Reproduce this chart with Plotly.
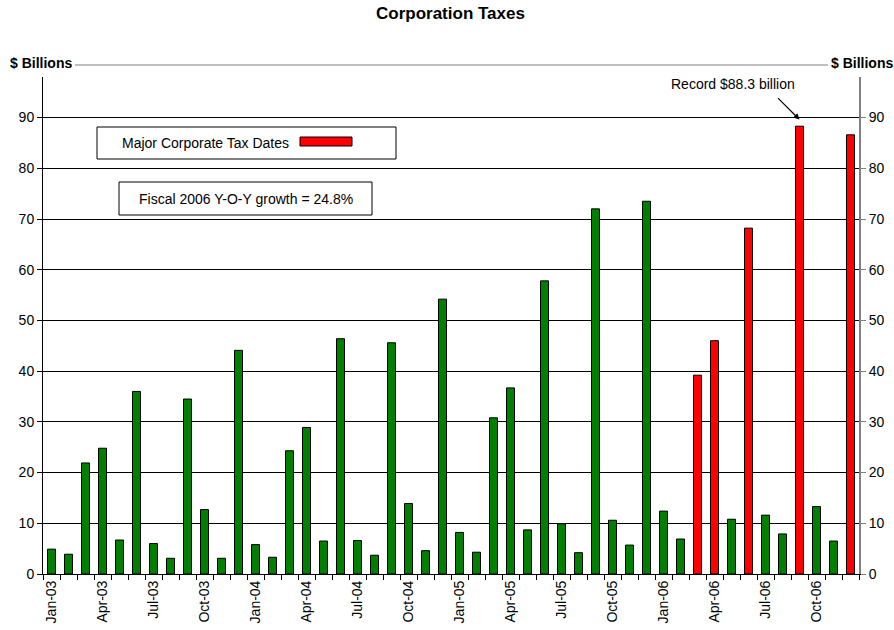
import plotly.graph_objects as go

# Monthly corporation tax receipts, $ billions
months = [
    "Jan-03", "Feb-03", "Mar-03", "Apr-03", "May-03", "Jun-03",
    "Jul-03", "Aug-03", "Sep-03", "Oct-03", "Nov-03", "Dec-03",
    "Jan-04", "Feb-04", "Mar-04", "Apr-04", "May-04", "Jun-04",
    "Jul-04", "Aug-04", "Sep-04", "Oct-04", "Nov-04", "Dec-04",
    "Jan-05", "Feb-05", "Mar-05", "Apr-05", "May-05", "Jun-05",
    "Jul-05", "Aug-05", "Sep-05", "Oct-05", "Nov-05", "Dec-05",
    "Jan-06", "Feb-06", "Mar-06", "Apr-06", "May-06", "Jun-06",
    "Jul-06", "Aug-06", "Sep-06", "Oct-06", "Nov-06", "Dec-06",
]
receipts = [
    4.9, 3.9, 21.9, 24.8, 6.7, 36.0, 6.0, 3.1, 34.5, 12.7, 3.1, 44.1,
    5.8, 3.3, 24.3, 28.9, 6.5, 46.4, 6.6, 3.7, 45.6, 13.9, 4.6, 54.2,
    8.2, 4.3, 30.8, 36.7, 8.7, 57.8, 9.9, 4.2, 72.0, 10.6, 5.7, 73.5,
    12.4, 6.9, 39.2, 46.0, 10.8, 68.2, 11.6, 7.9, 88.3, 13.3, 6.5, 86.6,
]
# Major corporate tax dates highlighted for fiscal 2006
highlighted = {"Mar-06", "Apr-06", "Jun-06", "Sep-06", "Dec-06"}
labelled_months = ["Jan", "Apr", "Jul", "Oct"]
y_ticks = [0, 10, 20, 30, 40, 50, 60, 70, 80, 90]

GREEN = "#008000"
RED = "#FF0000"
FONT = "Liberation Sans, Arial, sans-serif"

bar_colors = [RED if m in highlighted else GREEN for m in months]
tick_text = [m if m[:3] in labelled_months else "" for m in months]

fig = go.Figure()
fig.add_trace(go.Bar(
    x=months, y=receipts,
    marker=dict(color=bar_colors, line=dict(color="black", width=1)),
    width=0.47, showlegend=False, hoverinfo="x+y",
))
# carrier for the right-hand value axis
fig.add_trace(go.Scatter(
    x=[months[0]], y=[0], yaxis="y2", mode="markers",
    marker=dict(opacity=0), showlegend=False, hoverinfo="skip",
))

L, R, T, B = 43, 35, 77, 56
W, H = 894, 630
pw, ph = W - L - R, H - T - B


def px(x):
    return (x - L) / pw


def py(y):
    return (H - B - y) / ph


fig.update_layout(
    width=W, height=H, autosize=False,
    margin=dict(l=L, r=R, t=T, b=B, pad=0, autoexpand=False),
    paper_bgcolor="white", plot_bgcolor="white",
    font=dict(family=FONT, size=14, color="black"),
    bargap=0.5,
    xaxis=dict(
        type="category", tickmode="array", tickvals=months, ticktext=tick_text,
        tickangle=-90, ticks="outside", tickson="boundaries", ticklen=5,
        tickcolor="black", showline=True, linecolor="black", linewidth=1,
        showgrid=False, tickfont=dict(size=14), range=[-0.5, 47.5],
        automargin=False,
    ),
    yaxis=dict(
        range=[0, 98], tickvals=y_ticks, ticks="outside", ticklen=5,
        tickcolor="black", showline=True, linecolor="black", linewidth=1,
        showgrid=True, gridcolor="black", gridwidth=1, zeroline=False,
        tickfont=dict(size=14), automargin=False,
    ),
    yaxis2=dict(
        overlaying="y", side="right", range=[0, 98], tickvals=y_ticks,
        ticks="outside", ticklen=5, tickcolor="#808080", showline=True,
        linecolor="#808080", linewidth=2, showgrid=False, zeroline=False,
        tickfont=dict(size=14), automargin=False,
    ),
)

shapes = [
    # rule across the top between the unit labels
    dict(type="line", xref="paper", yref="paper", x0=px(75), x1=px(828),
         y0=py(65), y1=py(65), line=dict(color="#808080", width=1)),
    # key box
    dict(type="rect", xref="paper", yref="paper", x0=px(97), x1=px(396),
         y0=py(159), y1=py(127), line=dict(color="black", width=1),
         fillcolor="white"),
    dict(type="rect", xref="paper", yref="paper", x0=px(300), x1=px(352),
         y0=py(146), y1=py(137), line=dict(color="black", width=1),
         fillcolor=RED),
    # growth note box
    dict(type="rect", xref="paper", yref="paper", x0=px(119), x1=px(372),
         y0=py(215), y1=py(182), line=dict(color="black", width=1),
         fillcolor="white"),
]
fig.update_layout(shapes=shapes)

annotations = [
    dict(text="<b>Corporation Taxes</b>", xref="paper", yref="paper",
         x=px(450), y=py(14), xanchor="center", yanchor="middle",
         showarrow=False, font=dict(size=17)),
    dict(text="<b>$ Billions</b>", xref="paper", yref="paper",
         x=px(8), y=py(63), xanchor="left", yanchor="middle",
         showarrow=False, font=dict(size=14)),
    dict(text="<b>$ Billions</b>", xref="paper", yref="paper",
         x=px(895), y=py(63), xanchor="right", yanchor="middle",
         showarrow=False, font=dict(size=14)),
    dict(text="<b>$ Billions</b>", xref="paper", yref="paper",
         x=px(892), y=py(517), xanchor="left", yanchor="middle",
         textangle=-90, showarrow=False, font=dict(size=14)),
    dict(text="Major Corporate Tax Dates", xref="paper", yref="paper",
         x=px(120), y=py(143), xanchor="left", yanchor="middle",
         showarrow=False, font=dict(size=14)),
    dict(text="Fiscal 2006 Y-O-Y growth = 24.8%", xref="paper", yref="paper",
         x=px(245.5), y=py(198.5), xanchor="center", yanchor="middle",
         showarrow=False, font=dict(size=14)),
    dict(text="Record $88.3 billion", xref="paper", yref="paper",
         x=px(733), y=py(84), xanchor="center", yanchor="middle",
         showarrow=False, font=dict(size=14)),
    dict(text="", x="Sep-06", y=89.6, xref="x", yref="y",
         showarrow=True, ax=-23, ay=-23, arrowhead=2, arrowsize=1,
         arrowwidth=1.2, arrowcolor="black"),
]
fig.update_layout(annotations=annotations)

fig.write_html("out.html")
